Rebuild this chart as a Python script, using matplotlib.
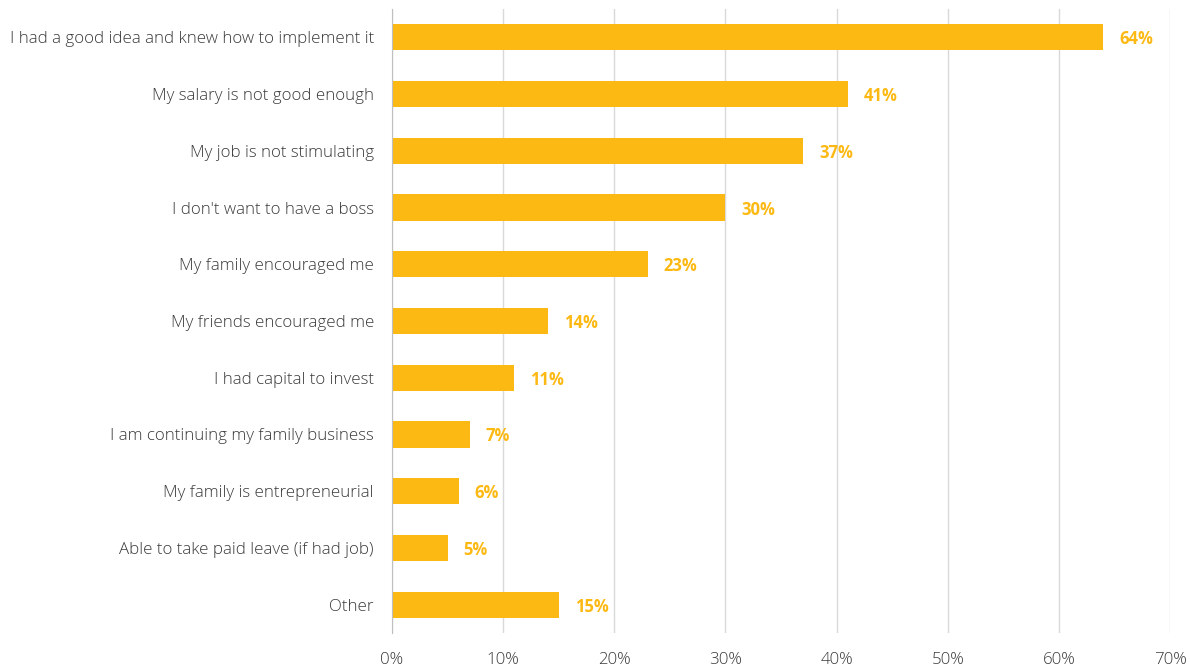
import matplotlib.pyplot as plt
from matplotlib.ticker import FuncFormatter

categories = [
    "I had a good idea and knew how to implement it",
    "My salary is not good enough",
    "My job is not stimulating",
    "I don't want to have a boss",
    "My family encouraged me",
    "My friends encouraged me",
    "I had capital to invest",
    "I am continuing my family business",
    "My family is entrepreneurial",
    "Able to take paid leave (if had job)",
    "Other",
]
values = [64, 41, 37, 30, 23, 14, 11, 7, 6, 5, 15]
x_ticks = [0, 10, 20, 30, 40, 50, 60, 70]

BAR = "#FDB913"
TEXT = "#3A3A3A"

plt.rcParams["font.family"] = ["Open Sans", "DejaVu Sans"]

fig = plt.figure(figsize=(11.9, 6.68), dpi=100)
ax = fig.add_axes([392 / 1190, 1 - 633 / 668, (1170 - 392) / 1190, (633 - 9) / 668])

pos = list(range(len(categories)))
ax.barh(pos, values, height=0.46, color=BAR, zorder=3)
for p, v in zip(pos, values):
    ax.annotate(f"{v}%", (v, p), xytext=(16, -2), textcoords="offset pixels",
                va="center", ha="left", color=BAR, fontsize=12, fontweight="bold")

ax.set_ylim(len(categories) - 0.5, -0.5)
ax.set_xlim(0, 70)
ax.set_yticks(pos)
ax.set_yticklabels(categories, fontsize=12.2, color=TEXT, fontweight="light")
ax.set_xticks(x_ticks)
ax.xaxis.set_major_formatter(FuncFormatter(lambda x, _: f"{x:.0f}%"))
for lab in ax.get_xticklabels():
    lab.set_fontweight("light")
ax.tick_params(axis="x", length=0, pad=14, labelsize=12.2, labelcolor=TEXT)
ax.tick_params(axis="y", length=0, pad=13)
ax.grid(axis="x", color="#D9D9D9", linewidth=1, zorder=0)
for s in ["top", "right", "bottom"]:
    ax.spines[s].set_visible(False)
ax.spines["left"].set_color("#BFBFBF")
ax.spines["left"].set_zorder(4)

fig.savefig("out.png", dpi=100)
